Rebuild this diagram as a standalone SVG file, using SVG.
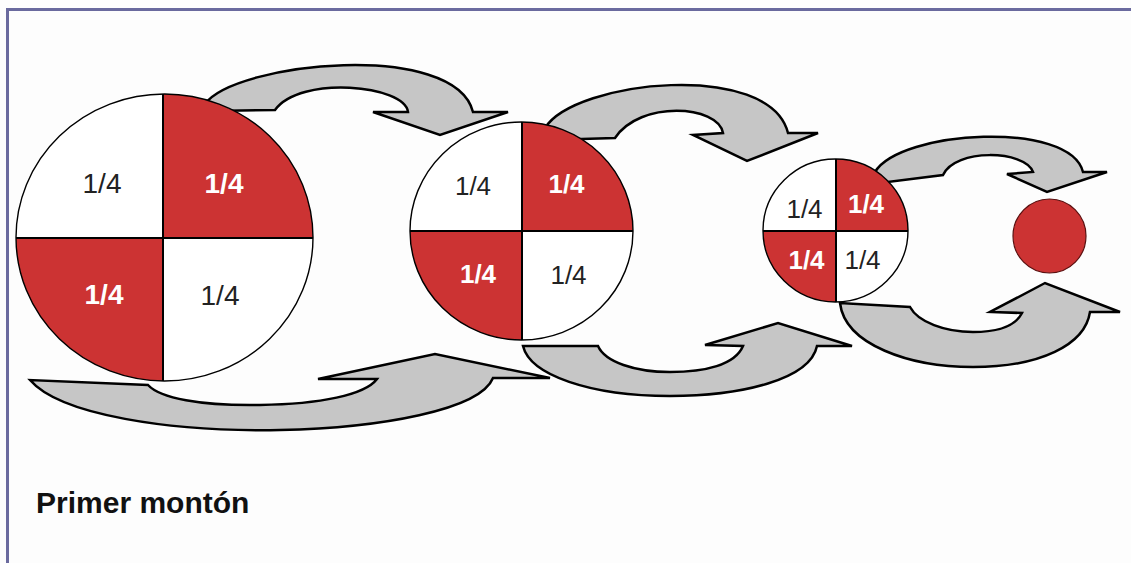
<svg xmlns="http://www.w3.org/2000/svg" width="1131" height="563" viewBox="0 0 1131 563">
  <style>
    .arrow { fill: #c6c6c6; stroke: #000; stroke-width: 2.5; stroke-linejoin: miter; }
    .red { fill: #cc3333; }
    .outline { fill: none; stroke: #000; stroke-width: 1.4; }
    .div { stroke: #000; stroke-width: 2; }
    .q { font-family: "Liberation Sans", Arial, sans-serif; text-anchor: middle; }
    .qw { fill: #222; }
    .qr { fill: #fff; font-weight: bold; }
    .frame { stroke: #6a6a9e; stroke-width: 3; fill: none; }
  </style>
  <defs>
    <clipPath id="c1"><ellipse cx="164.5" cy="237.5" rx="148.5" ry="143.5"/></clipPath>
    <clipPath id="c2"><ellipse cx="521.5" cy="231" rx="111.5" ry="109"/></clipPath>
    <clipPath id="c3"><ellipse cx="835.5" cy="230.5" rx="72.5" ry="71.5"/></clipPath>
  </defs>
  <rect x="0" y="0" width="1131" height="563" fill="#fdfdfd"/>
  <g id="frame">
    <line class="frame" x1="6" y1="9.5" x2="1131" y2="9.5"/>
    <line class="frame" x1="7.5" y1="8" x2="7.5" y2="563"/>
  </g>
  <g id="connectors">
    <path class="arrow" d="M205,104 C235,62 455,40 473,112 L508,112 L440,135 L373,112 L408,112 C405,85 300,75 275,110 L210,111 Z"/>
    <path class="arrow" d="M545,128 C575,80 770,60 788,133 L818,133 L747,161 L693,135 L723,133 C718,105 640,100 615,138 L548,140 Z"/>
    <path class="arrow" d="M875,172 C900,130 1070,120 1083,172 L1107,172 L1047,192 L1007,174 L1033,172 C1025,150 955,148 943,175 L880,183 Z"/>
    <path class="arrow" d="M30,380 C60,415 170,432 280,430 C380,428 480,410 493,378 L550,378 L435,354 L318,379 L377,379 C365,395 320,404 260,405 C200,406 160,398 148,385 Z"/>
    <path class="arrow" d="M523,346 C530,375 590,396 670,396 C740,396 810,380 817,346 L852,346 L778,323 L705,345 L743,346 C735,365 705,372 670,372 C635,372 605,362 598,346 Z"/>
    <path class="arrow" d="M840,303 C845,345 910,367 973,367 C1040,367 1085,345 1090,312 L1120,312 L1045,283 L990,312 L1022,313 C1015,327 995,332 973,332 C945,332 918,322 910,307 Z"/>
  </g>
  <g id="node-big">
    <ellipse cx="164.5" cy="237.5" rx="148.5" ry="143.5" fill="#fff"/>
    <g clip-path="url(#c1)">
      <rect class="red" x="163" y="90" width="155" height="148"/>
      <rect class="red" x="10" y="238" width="153" height="148"/>
    </g>
    <ellipse class="outline" cx="164.5" cy="237.5" rx="148.5" ry="143.5"/>
    <line class="div" x1="16" y1="238" x2="313" y2="238"/>
    <line class="div" x1="163" y1="94" x2="163" y2="381"/>
    <text class="q qw" x="102" y="193" font-size="28">1/4</text>
    <text class="q qr" x="224" y="193" font-size="28">1/4</text>
    <text class="q qr" x="104" y="304" font-size="28">1/4</text>
    <text class="q qw" x="220" y="305" font-size="28">1/4</text>
  </g>
  <g id="node-medium">
    <ellipse cx="521.5" cy="231" rx="111.5" ry="109" fill="#fff"/>
    <g clip-path="url(#c2)">
      <rect class="red" x="522" y="118" width="115" height="113"/>
      <rect class="red" x="406" y="231" width="116" height="113"/>
    </g>
    <ellipse class="outline" cx="521.5" cy="231" rx="111.5" ry="109"/>
    <line class="div" x1="410" y1="231" x2="633" y2="231"/>
    <line class="div" x1="522" y1="122" x2="522" y2="340"/>
    <text class="q qw" x="473" y="195" font-size="26">1/4</text>
    <text class="q qr" x="566.5" y="193" font-size="26">1/4</text>
    <text class="q qr" x="478" y="283" font-size="26">1/4</text>
    <text class="q qw" x="568.5" y="284" font-size="26">1/4</text>
  </g>
  <g id="node-small">
    <ellipse cx="835.5" cy="230.5" rx="72.5" ry="71.5" fill="#fff"/>
    <g clip-path="url(#c3)">
      <rect class="red" x="836" y="155" width="76" height="76"/>
      <rect class="red" x="759" y="231" width="77" height="75"/>
    </g>
    <ellipse class="outline" cx="835.5" cy="230.5" rx="72.5" ry="71.5"/>
    <line class="div" x1="763" y1="231" x2="908" y2="231"/>
    <line class="div" x1="836" y1="159" x2="836" y2="302"/>
    <text class="q qw" x="804.5" y="218" font-size="26">1/4</text>
    <text class="q qr" x="866" y="213" font-size="26">1/4</text>
    <text class="q qr" x="806.5" y="269" font-size="26">1/4</text>
    <text class="q qw" x="862.5" y="269" font-size="26">1/4</text>
  </g>
  <g id="node-dot">
    <ellipse class="red" cx="1049.5" cy="236" rx="36.5" ry="37" stroke="#5a1010" stroke-width="1.2"/>
  </g>
  <g id="caption">
    <text x="36" y="513" font-family="Liberation Sans, Arial, sans-serif" font-weight="bold" font-size="30" fill="#111">Primer montón</text>
  </g>
</svg>
